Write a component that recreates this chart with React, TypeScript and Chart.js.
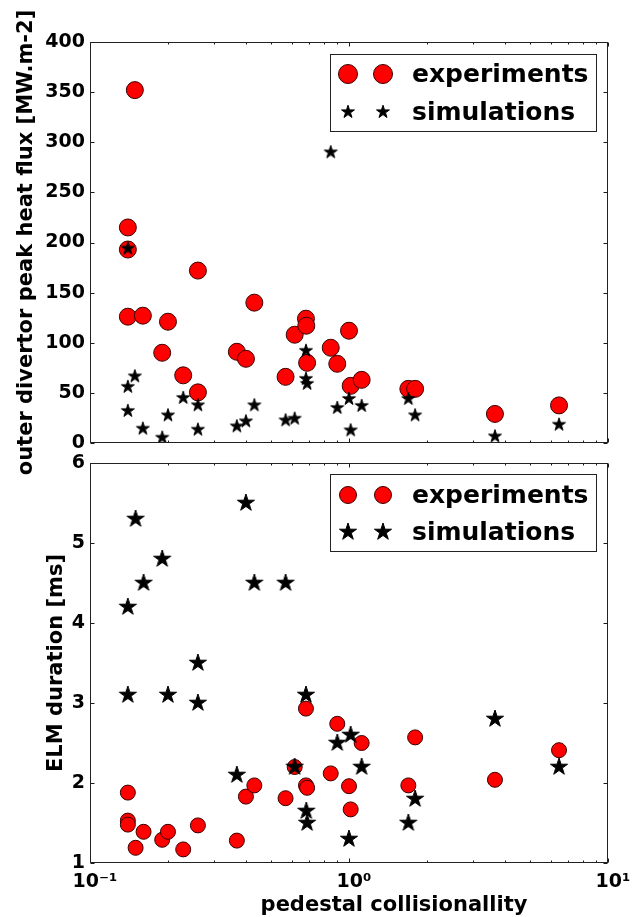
import React, { useEffect, useRef } from 'react';
import { Chart, registerables } from 'chart.js';

Chart.register(...registerables);

const FONT_FAMILY = "'DejaVu Sans', 'Liberation Sans', sans-serif";

// ---------- panel 1: outer divertor peak heat flux [MW.m-2] ----------
const fluxExpX = [0.149, 0.14, 0.14, 0.14, 0.16, 0.2, 0.19, 0.229, 0.261, 0.261, 0.369, 0.4, 0.431, 0.569, 0.617, 0.682, 0.684, 0.689, 0.85, 0.901, 1.0, 1.015, 1.119, 1.695, 1.8, 3.66, 6.47];
const fluxExpY = [352, 215, 193, 126, 127, 121, 90, 67.5, 172, 50.5, 91, 84, 140, 66, 108, 124, 117, 80, 95, 79, 112, 57, 63, 54, 54, 29, 37.5];
const fluxSimX = [0.14, 0.14, 0.149, 0.14, 0.16, 0.19, 0.2, 0.229, 0.261, 0.261, 0.369, 0.4, 0.431, 0.569, 0.617, 0.682, 0.682, 0.689, 0.85, 0.901, 1.0, 1.015, 1.119, 1.695, 1.8, 3.66, 6.47];
const fluxSimY = [194, 56, 66.5, 32, 14.3, 5.3, 27.6, 45, 37.6, 13.3, 16.6, 21.6, 37.6, 22.6, 24.3, 92, 64, 59, 290, 35, 44, 12.6, 37, 44, 27.6, 6.6, 18.3];

// ---------- panel 2: ELM duration [ms] ----------
const durExpX = [0.14, 0.14, 0.14, 0.15, 0.161, 0.19, 0.2, 0.229, 0.261, 0.369, 0.4, 0.431, 0.569, 0.617, 0.682, 0.682, 0.689, 0.85, 0.901, 1.0, 1.015, 1.119, 1.695, 1.8, 3.66, 6.47];
const durExpY = [1.88, 1.53, 1.48, 1.19, 1.39, 1.29, 1.39, 1.17, 1.47, 1.28, 1.83, 1.97, 1.81, 2.2, 2.93, 1.97, 1.94, 2.12, 2.74, 1.96, 1.67, 2.5, 1.97, 2.57, 2.04, 2.41];
const durSimX = [0.15, 0.14, 0.161, 0.19, 0.14, 0.2, 0.261, 0.261, 0.4, 0.431, 0.569, 0.369, 0.617, 0.682, 0.684, 0.689, 0.901, 1.015, 1.119, 1.0, 1.695, 1.8, 3.66, 6.47];
const durSimY = [5.3, 4.2, 4.5, 4.8, 3.1, 3.1, 3.5, 3.0, 5.5, 4.5, 4.5, 2.1, 2.2, 3.1, 1.65, 1.5, 2.5, 2.6, 2.2, 1.3, 1.5, 1.8, 2.8, 2.2];

// ---------- axes / labels ----------
const xTickValues = [0.1, 1, 10];
const xTickLabels = ['10⁻¹', '10⁰', '10¹'];
const seriesLabels = ['experiments', 'simulations'];
const fluxTitle = 'outer divertor peak heat flux [MW.m-2]';
const durTitle = 'ELM duration [ms]';
const xTitle = 'pedestal collisionallity';

const toPoints = (xs: number[], ys: number[]) => xs.map((x, i) => ({ x, y: ys[i] }));

function makeStar(R: number): HTMLCanvasElement {
  const size = Math.ceil(2 * R + 4);
  const c = document.createElement('canvas');
  c.width = size;
  c.height = size;
  const ctx = c.getContext('2d')!;
  const cx = size / 2;
  const cy = size / 2;
  ctx.beginPath();
  for (let i = 0; i < 10; i++) {
    const r = i % 2 === 0 ? R : R * 0.382;
    const a = -Math.PI / 2 + (i * Math.PI) / 5;
    const x = cx + r * Math.cos(a);
    const y = cy + r * Math.sin(a);
    if (i === 0) ctx.moveTo(x, y);
    else ctx.lineTo(x, y);
  }
  ctx.closePath();
  ctx.fillStyle = '#000';
  ctx.fill();
  ctx.lineWidth = 1;
  ctx.strokeStyle = '#000';
  ctx.stroke();
  return c;
}

const framePlugin = {
  id: 'mplFrame',
  afterDatasetsDraw(chart: any) {
    const { ctx, chartArea: a } = chart;
    const xs = chart.scales.x;
    const ys = chart.scales.y;
    const x0 = Math.round(a.left) + 0.5;
    const x1 = Math.round(a.right) - 0.5;
    const y0 = Math.round(a.top) + 0.5;
    const y1 = Math.round(a.bottom) - 0.5;
    ctx.save();
    ctx.strokeStyle = '#1a1a1a';
    ctx.lineWidth = 1;
    ctx.beginPath();
    // log x ticks (major at decades, minor at 2..9)
    const eMin = Math.floor(Math.log10(xs.min));
    const eMax = Math.ceil(Math.log10(xs.max));
    for (let e = eMin; e <= eMax; e++) {
      for (let k = 1; k <= 9; k++) {
        const v = k * Math.pow(10, e);
        if (v < xs.min * 0.999 || v > xs.max * 1.001) continue;
        const px = Math.round(xs.getPixelForValue(v)) + 0.5;
        const len = k === 1 ? 4 : 2;
        ctx.moveTo(px, y1);
        ctx.lineTo(px, y1 - len);
        ctx.moveTo(px, y0);
        ctx.lineTo(px, y0 + len);
      }
    }
    // y ticks
    for (const t of ys.ticks) {
      const py = Math.round(ys.getPixelForValue(t.value)) + 0.5;
      ctx.moveTo(x0, py);
      ctx.lineTo(x0 + 4, py);
      ctx.moveTo(x1, py);
      ctx.lineTo(x1 - 4, py);
    }
    ctx.stroke();
    ctx.strokeStyle = '#222';
    ctx.strokeRect(x0, y0, x1 - x0, y1 - y0);
    ctx.restore();
  },
};

function makeLegendPlugin(star: HTMLCanvasElement) {
  return {
    id: 'mplLegend',
    afterDraw(chart: any, _args: any, opts: any) {
      const { ctx, chartArea: a } = chart;
      const left = Math.round(a.right - opts.right - opts.width);
      const top = Math.round(a.top + opts.top);
      ctx.save();
      ctx.fillStyle = '#fff';
      ctx.fillRect(left, top, opts.width, opts.height);
      ctx.strokeStyle = '#222';
      ctx.lineWidth = 1;
      ctx.strokeRect(left + 0.5, top + 0.5, opts.width, opts.height);
      ctx.font = `bold ${opts.fontSize}px ${FONT_FAMILY}`;
      ctx.textAlign = 'left';
      ctx.textBaseline = 'alphabetic';
      seriesLabels.forEach((label, i) => {
        const ds = chart.data.datasets.find((d: any) => d.label === label);
        const cy = top + opts.firstRow + i * opts.rowGap;
        for (const mx of opts.markerX) {
          const cx = left + mx;
          if (ds.pointStyle === 'circle') {
            ctx.beginPath();
            ctx.arc(cx, cy, opts.circleR, 0, Math.PI * 2);
            ctx.fillStyle = ds.backgroundColor;
            ctx.fill();
            ctx.lineWidth = ds.borderWidth;
            ctx.strokeStyle = ds.borderColor;
            ctx.stroke();
          } else {
            ctx.drawImage(star, cx - star.width / 2, cy - star.height / 2);
          }
        }
        ctx.fillStyle = '#000';
        ctx.fillText(label, left + opts.textX, cy + opts.textDy);
      });
      ctx.restore();
    },
  };
}

const titlePlugin = {
  id: 'mplTitles',
  afterDraw(chart: any, _args: any, opts: any) {
    const { ctx, chartArea: a } = chart;
    ctx.save();
    ctx.fillStyle = '#000';
    ctx.font = `bold 21px ${FONT_FAMILY}`;
    if (opts.yText) {
      ctx.save();
      ctx.translate(opts.yX, (a.top + a.bottom) / 2);
      ctx.rotate(-Math.PI / 2);
      ctx.textAlign = 'center';
      ctx.textBaseline = 'middle';
      ctx.fillText(opts.yText, 0, 0);
      ctx.restore();
    }
    if (opts.xText) {
      ctx.textAlign = 'center';
      ctx.textBaseline = 'alphabetic';
      ctx.fillText(opts.xText, opts.xX, opts.xY);
    }
    ctx.restore();
  },
};

const axisFont = { family: FONT_FAMILY, size: 19, weight: 'bold' as const };

function xTickCallback(v: any) {
  const idx = xTickValues.findIndex((t) => Math.abs(Math.log10(t) - Math.log10(Number(v))) < 1e-6);
  return idx >= 0 ? xTickLabels[idx] : '';
}

export default function App() {
  const topRef = useRef<HTMLCanvasElement>(null);
  const botRef = useRef<HTMLCanvasElement>(null);

  useEffect(() => {
    const starSmall = makeStar(6.8);
    const starBig = makeStar(9);
    const starLegendTop = makeStar(6.8);
    const starLegendBot = makeStar(9);

    const top = new Chart(topRef.current!, {
      type: 'scatter',
      data: {
        datasets: [
          {
            label: seriesLabels[1],
            data: toPoints(fluxSimX, fluxSimY),
            pointStyle: starSmall as any,
            pointRadius: 6,
            backgroundColor: '#000',
            borderColor: '#000',
          },
          {
            label: seriesLabels[0],
            data: toPoints(fluxExpX, fluxExpY),
            pointStyle: 'circle',
            pointRadius: 8.5,
            backgroundColor: '#ff0000',
            borderColor: '#3a0000',
            borderWidth: 1,
          },
        ],
      },
      options: {
        responsive: false,
        animation: false,
        devicePixelRatio: 1,
        events: [],
        layout: { padding: { left: 0, right: 32, top: 42, bottom: 474 } },
        plugins: {
          legend: { display: false },
          tooltip: { enabled: false },
          mplLegend: { right: 12, top: 12, width: 266, height: 77, firstRow: 20, rowGap: 38, markerX: [18, 53], circleR: 9.5, textX: 82, textDy: 8, fontSize: 25 },
          mplTitles: { yText: fluxTitle, yX: 27 },
        } as any,
        scales: {
          x: { type: 'logarithmic', min: 0.1, max: 10, display: false },
          y: {
            type: 'linear',
            min: 0,
            max: 400,
            afterFit: (s: any) => { s.width = 90; },
            grid: { display: false, drawTicks: false },
            border: { display: false },
            ticks: { stepSize: 50, color: '#000', font: axisFont, padding: 5 },
          },
        },
      },
      plugins: [framePlugin, makeLegendPlugin(starLegendTop), titlePlugin],
    });

    const bot = new Chart(botRef.current!, {
      type: 'scatter',
      data: {
        datasets: [
          {
            label: seriesLabels[1],
            data: toPoints(durSimX, durSimY),
            pointStyle: starBig as any,
            pointRadius: 8,
            backgroundColor: '#000',
            borderColor: '#000',
          },
          {
            label: seriesLabels[0],
            data: toPoints(durExpX, durExpY),
            pointStyle: 'circle',
            pointRadius: 7.5,
            backgroundColor: '#ff0000',
            borderColor: '#3a0000',
            borderWidth: 1,
          },
        ],
      },
      options: {
        responsive: false,
        animation: false,
        devicePixelRatio: 1,
        events: [],
        layout: { padding: { left: 0, right: 32, top: 463, bottom: 0 } },
        plugins: {
          legend: { display: false },
          tooltip: { enabled: false },
          mplLegend: { right: 12, top: 11, width: 266, height: 77, firstRow: 21, rowGap: 37, markerX: [18, 53], circleR: 8.5, textX: 82, textDy: 8, fontSize: 25 },
          mplTitles: { yText: durTitle, yX: 57, xText: xTitle, xX: 394, xY: 911 },
        } as any,
        scales: {
          x: {
            type: 'logarithmic',
            min: 0.1,
            max: 10,
            afterFit: (s: any) => { s.height = 54; },
            grid: { display: false, drawTicks: false },
            border: { display: false },
            ticks: {
              autoSkip: false,
              maxRotation: 0,
              color: '#000',
              font: axisFont,
              padding: 8,
              labelOffset: 5,
              callback: xTickCallback,
            },
          },
          y: {
            type: 'linear',
            min: 1,
            max: 6,
            afterFit: (s: any) => { s.width = 90; },
            grid: { display: false, drawTicks: false },
            border: { display: false },
            ticks: { stepSize: 1, color: '#000', font: axisFont, padding: 5 },
          },
        },
      },
      plugins: [framePlugin, makeLegendPlugin(starLegendBot), titlePlugin],
    });

    return () => {
      top.destroy();
      bot.destroy();
    };
  }, []);

  const canvasStyle: React.CSSProperties = { position: 'absolute', left: 0, top: 0 };
  return (
    <div style={{ position: 'absolute', left: 0, top: 0, width: 640, height: 917, background: '#fff' }}>
      <canvas ref={topRef} width={640} height={917} style={canvasStyle} />
      <canvas ref={botRef} width={640} height={917} style={canvasStyle} />
    </div>
  );
}
